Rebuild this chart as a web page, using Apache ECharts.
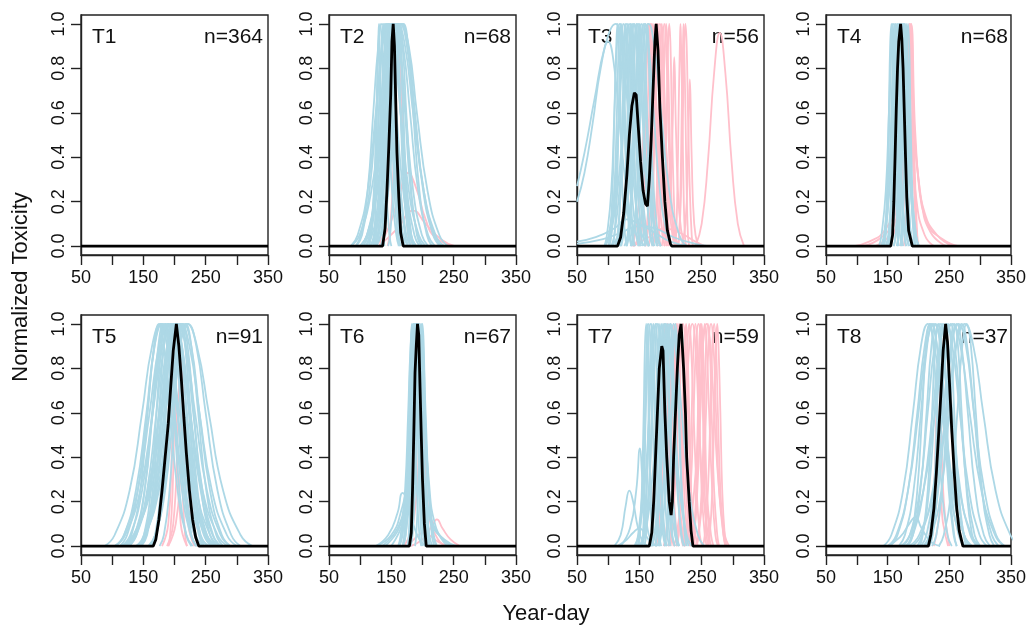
<!DOCTYPE html>
<html>
<head>
<meta charset="utf-8">
<script src="https://cdn.jsdelivr.net/npm/echarts@6/dist/echarts.min.js"></script>
<style>html,body{margin:0;padding:0;background:#fff}#c{width:1029px;height:630px}</style>
</head>
<body>
<div id="c"></div>
<script>
// ---------- DATA ----------
const panelNames = ['T1','T2','T3','T4','T5','T6','T7','T8'];
const panelN = [364, 68, 56, 68, 91, 67, 59, 37];
const xTicks = [50, 100, 150, 200, 250, 300, 350];
const xTickLabels = [50, 150, 250, 350];
const yTicks = [0, 0.2, 0.4, 0.6, 0.8, 1.0];
// heights shared by the "level" curves: each curve lists the year-day at which it crosses these heights
const LEVELS = [0, 0.05, 0.25, 0.6, 0.9, 1, 0.9, 0.6, 0.25, 0.05, 0];

const t1Black = [[50,0],[350,0]];

const t2Black = [[50,0],[136,0],[140,0.08],[143,0.25],[146,0.45],[149,0.68],[151,0.92],[153,1],[155,0.9],[157,0.66],[159,0.42],[162,0.22],[165,0.06],[169,0],[350,0]];
const t2BlueLv = [
 [121,123,125,127,129,130,131,133,135,137,139],[110,115,123,130,135,140,145,150,157,165,170],
 [109,116,125,133,139,145,151,157,165,174,181],[105,113,125,135,143,150,157,165,175,187,195],
 [101,111,125,137,147,155,163,173,185,199,209],[100,111,127,140,151,160,169,180,193,209,220],
 [99,111,128,143,155,165,175,187,202,219,231],[108,119,135,148,159,168,177,188,201,217,228],
 [124,128,135,140,144,148,152,156,161,168,172],[134,137,142,146,149,152,155,158,162,167,170],
 [133,137,144,149,153,157,161,165,170,177,181],[126,133,142,150,156,162,168,174,182,191,198],
 [93,101,112,121,129,135,141,149,158,169,177],[94,103,115,126,135,142,149,158,169,181,190],
 [121,129,141,151,159,166,178,191,208,227,241],[125,133,145,155,163,170,177,185,195,207,215],
 [114,118,125,130,134,138,142,146,151,158,162],[125,130,138,145,150,155,160,165,172,180,185],
 [85,96,112,125,136,145,154,165,178,194,205],[85,99,118,135,148,160,172,185,202,221,235],
 [135,138,142,145,148,150,152,155,158,162,165],[145,148,153,157,160,163,166,169,173,178,181],
 [114,117,122,126,129,132,135,138,142,147,150],[116,124,135,144,152,158,164,172,181,192,200],
 [117,122,130,137,142,147,152,157,164,172,177],[133,138,145,151,156,160,164,169,175,182,187],
 [117,124,133,141,147,153,159,165,173,182,189],[122,126,131,136,140,143,146,150,155,160,164]
];
const t2BlueXY = [];
const t2PinkLv = [[144,147,152,156,159,162,165,168,172,177,180],[131,136,143,149,154,158,162,167,173,180,185]];
const t2PinkXY = [
 [[120,0],[140,0.05],[160,0.2],[177,0.33],[190,0.26],[205,0.12],[220,0.04],[250,0]],
 [[130,0],[160,0.08],[185,0.16],[205,0.1],[230,0.03],[252,0]]
];

const t3Black = [[50,0],[115,0],[120,0.04],[125,0.15],[130,0.32],[134,0.5],[138,0.63],[142,0.69],[145,0.68],[148,0.55],[152,0.38],[156,0.25],[160,0.19],[163,0.18],[166,0.3],[169,0.48],[172,0.7],[175,0.92],[177,1.0],[180,0.88],[183,0.62],[187,0.4],[191,0.2],[195,0.07],[200,0.01],[202,0],[350,0]];
const t3BlueLv = [
 [100,103,107,110,113,115,117,120,123,127,130],[102,105,110,114,117,120,123,126,130,135,138],
 [101,105,112,117,121,125,129,133,138,145,149],[113,116,120,123,126,128,130,133,136,140,143],
 [111,115,120,125,129,132,135,139,144,149,153],[105,110,118,125,130,135,140,145,152,160,165],
 [120,123,128,132,135,138,141,144,148,153,156],[118,122,129,134,138,142,146,150,155,162,166],
 [130,133,137,140,143,145,147,150,153,157,160],[112,119,128,136,142,148,154,160,168,177,184],
 [129,133,138,143,147,150,153,157,162,167,171],[126,131,138,144,149,153,157,162,168,175,180],
 [138,141,146,150,153,156,159,162,166,171,174],[136,140,147,152,156,160,164,168,173,180,184],
 [148,151,155,158,161,163,165,168,171,175,178],[95,103,115,125,133,140,147,155,165,177,185],
 [94,101,110,118,124,130,136,142,150,159,166],[113,121,133,143,151,158,165,173,183,195,203],
 [105,116,132,145,156,165,174,185,198,214,225],[94,98,105,110,114,118,122,126,131,138,142],
 [107,110,114,117,120,122,124,127,130,134,137],[119,124,131,137,142,146,150,155,161,168,173],
 [121,124,128,131,134,136,138,141,144,148,151]
];
const t3BlueXY = [
 [[50,0.2],[62,0.33],[75,0.55],[88,0.8],[100,0.92],[110,0.8],[120,0.5],[132,0.2],[145,0.05],[160,0]],
 [[50,0.27],[62,0.42],[78,0.66],[95,0.9],[112,1],[122,0.9],[132,0.6],[142,0.25],[152,0.07],[165,0]],
 [[50,0.02],[80,0.04],[110,0.08],[130,0.12],[150,0.1],[175,0.06],[200,0.02],[230,0]],
 [[50,0.01],[90,0.03],[120,0.06],[150,0.09],[175,0.08],[205,0.04],[240,0.01],[262,0]]
];
const t3PinkLv = [
 [150,153,157,160,163,165,167,170,173,177,180],[149,153,158,163,167,170,173,177,182,187,191],
 [160,162,165,168,170,172,174,176,179,182,184],[158,161,166,170,173,176,179,182,186,191,194],
 [165,168,172,175,178,180,182,185,188,192,195],[159,163,170,175,179,183,187,191,196,203,207],
 [171,174,178,181,184,186,188,191,194,198,201],[172,175,180,184,187,190,193,196,200,205,208],
 [138,143,151,158,163,168,173,178,185,193,198],[142,149,158,166,172,178,184,190,198,207,214],
 [178,181,185,188,191,193,195,198,201,205,208],[186,188,191,194,196,198,200,202,205,208,210],
 [207,209,211,213,215,216,217,219,221,223,225],[212,214,216,218,220,221,222,224,226,228,230],
 [212,214,217,220,222,224,226,228,231,234,236]
];
const t3PinkXY = [
 [[218,0],[224,0.1],[228,0.4],[231,0.75],[234,0.4],[238,0.1],[244,0]],
 [[190,0],[198,0.15],[203,0.5],[206,0.85],[209,0.5],[214,0.15],[222,0]],
 [[240,0],[250,0.1],[260,0.38],[270,0.78],[279,0.96],[288,0.78],[298,0.38],[308,0.1],[318,0]],
 [[140,0],[165,0.04],[190,0.08],[215,0.06],[240,0.02],[255,0]]
];

const t4Black = [[50,0],[155,0],[158,0.05],[160,0.2],[162,0.4],[164,0.62],[166,0.8],[168,0.92],[171,1],[173,0.93],[175,0.8],[177,0.6],[179,0.4],[181,0.22],[184,0.07],[190,0],[350,0]];
const t4BlueLv = [
 [144,146,149,152,154,156,158,160,163,166,168],[143,146,150,153,156,158,160,163,166,170,173],
 [144,147,152,156,159,162,165,168,172,177,180],[150,153,157,160,163,165,167,170,173,177,180],
 [147,151,156,161,165,168,171,175,180,185,189],[155,158,162,165,168,170,172,175,178,182,185],
 [154,157,162,166,169,172,175,178,182,187,190],[160,163,167,170,173,175,177,180,183,187,190],
 [160,163,168,172,175,178,181,184,188,193,196],[165,168,172,175,178,180,182,185,188,192,195],
 [171,173,176,179,181,183,185,187,190,193,195],[136,140,147,152,156,160,164,168,173,180,184],
 [139,144,151,157,162,166,170,175,181,188,193],[147,152,159,165,170,174,178,183,189,196,201],
 [140,145,153,160,165,170,175,180,187,195,200],[152,156,163,168,172,176,180,184,189,196,200],
 [151,153,156,159,161,163,165,167,170,173,175],[165,167,170,173,175,177,179,181,184,187,189]
];
const t4BlueXY = [];
const t4PinkLv = [[170,173,177,180,183,185,187,190,193,197,200],[176,178,181,184,186,188,190,192,195,198,200]];
const t4PinkXY = [
 [[95,0],[120,0.02],[145,0.07],[165,0.2],[178,0.55],[186,1],[192,0.6],[200,0.3],[215,0.1],[240,0.03],[265,0]],
 [[110,0],[140,0.04],[160,0.12],[175,0.4],[184,0.95],[190,0.7],[198,0.35],[210,0.15],[230,0.05],[255,0]],
 [[130,0],[155,0.06],[170,0.25],[182,0.8],[188,1],[195,0.5],[205,0.2],[220,0.06],[245,0]],
 [[150,0],[165,0.1],[175,0.3],[181,0.7],[184,0.88],[189,0.5],[197,0.2],[210,0.05],[225,0]]
];

const t5Black = [[50,0],[166,0],[170,0.03],[175,0.12],[180,0.25],[185,0.4],[190,0.55],[194,0.72],[198,0.88],[203,1],[207,0.9],[211,0.75],[215,0.58],[219,0.42],[224,0.25],[229,0.12],[234,0.04],[239,0],[350,0]];
const t5BlueLv = [
 [121,131,145,157,167,175,183,193,205,219,229],[112,124,141,156,168,178,188,200,215,232,244],
 [88,104,128,148,164,178,192,208,228,252,268],[105,119,138,155,168,180,192,205,222,241,255],
 [125,136,152,165,176,185,194,205,218,234,245],[143,151,162,171,179,185,191,199,208,219,227],
 [104,119,141,160,175,188,201,216,235,257,272],[145,153,165,175,183,190,197,205,215,227,235],
 [127,139,156,171,183,193,203,215,230,247,259],[105,121,145,165,181,195,209,225,245,269,285],
 [144,154,168,180,190,198,206,216,228,242,252],[162,169,178,186,192,198,204,210,218,227,234],
 [125,139,158,175,188,200,212,225,242,261,275],[143,154,170,183,194,203,212,223,236,252,263],
 [121,136,158,177,192,205,218,233,252,274,289],[163,171,182,191,199,205,211,219,228,239,247],
 [142,154,171,186,198,208,218,230,245,262,274],[120,136,160,180,196,210,224,240,260,284,300],
 [176,183,192,200,206,212,218,224,232,241,248],[159,169,183,195,205,213,221,231,243,257,267],
 [140,154,173,190,203,215,227,240,257,276,290],[158,169,185,198,209,218,227,238,251,267,278],
 [115,134,162,185,204,220,236,255,278,306,325],[138,153,175,194,209,222,235,250,269,291,306],
 [128,138,152,164,174,182,190,200,212,226,236],[147,156,168,179,188,195,202,211,222,234,243],
 [140,151,167,180,191,200,209,220,233,249,260],[162,171,183,194,203,210,217,226,237,249,258],
 [115,129,148,165,178,190,202,215,232,251,265]
];
const t5BlueXY = [];
const t5PinkLv = [[190,193,197,200,203,205,207,210,213,217,220]];
const t5PinkXY = [
 [[180,0],[190,0.1],[196,0.45],[200,0.85],[204,0.45],[210,0.1],[220,0]],
 [[188,0],[198,0.1],[205,0.5],[210,0.9],[215,0.5],[222,0.1],[232,0]],
 [[190,0],[202,0.1],[210,0.35],[215,0.6],[220,0.35],[228,0.1],[238,0]]
];

const t6Black = [[50,0],[179,0],[182,0.06],[184,0.25],[186,0.5],[188,0.78],[190,0.9],[192,1],[194,0.95],[196,0.72],[198,0.5],[200,0.3],[203,0.1],[206,0],[350,0]];
const t6BlueLv = [
 [168,171,175,178,181,183,185,188,191,195,198],[168,171,176,180,183,186,189,192,196,201,204],
 [176,178,181,184,186,188,190,192,195,198,200],[169,173,178,183,187,190,193,197,202,207,211],
 [177,180,184,187,190,192,194,197,200,204,207],[176,179,184,188,191,194,197,200,204,209,212],
 [181,184,188,191,194,196,198,201,204,208,211],[177,181,186,191,195,198,201,205,210,215,219],
 [188,190,193,196,198,200,202,204,207,210,212],[162,167,174,180,185,189,193,198,204,211,216],
 [163,168,176,183,188,193,198,203,210,218,223],[161,165,172,177,181,185,189,193,198,205,209],
 [168,173,180,186,191,195,199,204,210,217,222]
];
const t6BlueXY = [
 [[126,0],[150,0.05],[165,0.15],[175,0.3],[183,0.7],[187,1],[192,0.6],[200,0.3],[215,0.1],[235,0.03],[255,0]],
 [[135,0],[160,0.08],[172,0.22],[180,0.45],[186,0.9],[190,1],[196,0.6],[205,0.25],[220,0.08],[245,0]],
 [[140,0],[165,0.1],[178,0.35],[186,0.8],[191,1],[197,0.55],[210,0.15],[230,0.04],[250,0]],
 [[150,0],[170,0.12],[180,0.3],[188,0.75],[194,1],[201,0.7],[210,0.3],[222,0.08],[240,0]],
 [[125,0],[145,0.05],[160,0.15],[168,0.24],[176,0.2],[185,0.1],[195,0.03],[205,0]]
];
const t6PinkLv = [];
const t6PinkXY = [
 [[170,0],[185,0.1],[195,0.5],[199,0.95],[203,0.5],[210,0.15],[225,0.03],[240,0]],
 [[180,0],[200,0.03],[215,0.09],[223,0.12],[232,0.08],[245,0.03],[260,0]],
 [[175,0],[190,0.04],[200,0.06],[210,0.05],[225,0.02],[240,0]]
];

const t7Black = [[50,0],[166,0],[170,0.06],[173,0.2],[176,0.4],[179,0.6],[182,0.8],[186,0.9],[188,0.88],[191,0.6],[194,0.4],[198,0.2],[201,0.14],[203,0.2],[205,0.4],[208,0.6],[211,0.8],[214,0.95],[217,1],[221,0.8],[224,0.6],[226,0.4],[230,0.2],[233,0.07],[236,0],[350,0]];
const t7BlueLv = [
 [154,156,158,160,162,163,164,166,168,170,172],[147,150,155,159,162,165,168,171,175,180,183],
 [144,148,155,160,164,168,172,176,181,188,192],[155,158,162,165,168,170,172,175,178,182,185],
 [152,156,161,166,170,173,176,180,185,190,194],[158,161,166,170,173,176,179,182,186,191,194],
 [153,158,165,171,176,180,184,189,195,202,207],[168,171,175,178,181,183,185,188,191,195,198],
 [165,169,174,179,183,186,189,193,198,203,207],[166,170,177,182,186,190,194,198,203,210,214],
 [175,178,183,187,190,193,196,199,203,208,211],[169,174,181,187,192,196,200,205,211,218,223],
 [179,183,188,193,197,200,203,207,212,217,221],[181,185,192,197,201,205,209,213,218,225,229],
 [190,193,198,202,205,208,211,214,218,223,226],[142,149,158,166,172,178,184,190,198,207,214],
 [150,158,169,178,186,192,198,206,215,226,234],[170,175,183,190,195,200,208,218,230,244,254],
 [149,151,154,157,159,161,163,165,168,171,173],[176,178,181,184,186,188,190,192,195,198,200]
];
const t7BlueXY = [
 [[110,0],[120,0.05],[128,0.18],[134,0.25],[140,0.2],[148,0.08],[156,0.02],[165,0]],
 [[120,0],[135,0.08],[145,0.25],[151,0.44],[155,0.3],[162,0.1],[170,0.02],[178,0]],
 [[115,0],[130,0.03],[140,0.06],[150,0.08],[160,0.05],[170,0]]
];
const t7PinkLv = [
 [175,178,182,185,188,190,192,195,198,202,205],[177,180,185,189,192,195,198,201,205,210,213],
 [176,180,187,192,196,200,204,208,213,220,224],[190,193,197,200,203,205,207,210,213,217,220],
 [189,193,198,203,207,210,213,217,222,227,231],[197,200,205,209,212,215,218,221,225,230,233],
 [196,200,207,212,216,220,224,228,233,240,244],[210,213,217,220,223,225,227,230,233,237,240],
 [209,213,218,223,227,230,233,237,242,247,251],[205,210,218,225,230,235,240,245,252,260,265],
 [222,225,230,234,237,240,243,246,250,255,258],[221,225,232,237,241,245,249,253,258,265,269],
 [235,238,242,245,248,250,252,255,258,262,265],[234,238,243,248,252,255,258,262,267,272,276],
 [222,229,238,246,252,258,264,270,278,287,294],[242,245,250,254,257,260,263,266,270,275,278],
 [241,245,252,257,261,265,269,273,278,285,289],[252,255,260,264,267,270,273,276,280,285,288],
 [260,263,267,270,273,275,277,280,283,287,290],[200,202,205,208,210,212,214,216,219,222,224],
 [236,238,241,244,246,248,250,252,255,258,260]
];
const t7PinkXY = [];

const t8Black = [[50,0],[216,0],[220,0.05],[225,0.17],[229,0.33],[233,0.52],[237,0.72],[240,0.88],[244,1],[247,0.92],[250,0.75],[254,0.52],[258,0.33],[262,0.17],[266,0.07],[272,0],[350,0]];
const t8BlueLv = [
 [182,189,198,206,212,218,224,230,238,247,254],[154,166,183,198,210,220,230,242,257,274,286],
 [143,156,175,191,204,215,226,239,255,274,287],[168,178,192,204,214,222,230,240,252,266,276],
 [150,164,183,200,213,225,237,250,267,286,300],[183,191,203,213,221,228,235,243,253,265,273],
 [202,207,215,222,227,232,237,242,249,257,262],[175,186,202,215,226,235,244,255,268,284,295],
 [214,218,225,230,234,238,242,246,251,258,262],[198,206,217,226,234,240,246,254,263,274,282],
 [179,191,208,223,235,245,255,267,282,299,311],[218,223,231,238,243,248,253,258,265,273,278],
 [204,213,225,236,245,252,259,268,279,291,300],[171,186,208,227,242,255,268,283,302,324,339],
 [222,229,238,246,252,258,264,270,278,287,294],[208,218,232,244,254,262,270,280,292,306,316],
 [190,204,223,240,253,265,277,290,307,326,340],[210,221,237,250,261,270,279,290,303,319,330],
 [185,201,225,245,261,275,289,305,325,349,365],[233,241,253,263,271,278,285,293,303,315,323]
];
const t8BlueXY = [
 [[150,0],[170,0.04],[185,0.1],[195,0.13],[205,0.08],[220,0.02],[235,0]]
];
const t8PinkLv = [];
const t8PinkXY = [
 [[215,0],[224,0.2],[229,0.6],[232,0.85],[236,0.6],[241,0.2],[250,0]],
 [[225,0],[232,0.1],[236,0.2],[240,0.1],[248,0]]
];

// ---------- LAYOUT / STYLE ----------
const BLUE = '#ADD8E6', PINK = '#FFC0CB';
const FONT = '"Liberation Sans", Arial, Helvetica, sans-serif';
const gridLefts = [81, 329, 577, 826];
const gridTops = [15, 315];
const GW = 187, GH = 240;

const panels = [
 {black:t1Black, blueLv:[], blueXY:[], pinkLv:[], pinkXY:[]},
 {black:t2Black, blueLv:t2BlueLv, blueXY:t2BlueXY, pinkLv:t2PinkLv, pinkXY:t2PinkXY},
 {black:t3Black, blueLv:t3BlueLv, blueXY:t3BlueXY, pinkLv:t3PinkLv, pinkXY:t3PinkXY},
 {black:t4Black, blueLv:t4BlueLv, blueXY:t4BlueXY, pinkLv:t4PinkLv, pinkXY:t4PinkXY},
 {black:t5Black, blueLv:t5BlueLv, blueXY:t5BlueXY, pinkLv:t5PinkLv, pinkXY:t5PinkXY},
 {black:t6Black, blueLv:t6BlueLv, blueXY:t6BlueXY, pinkLv:t6PinkLv, pinkXY:t6PinkXY},
 {black:t7Black, blueLv:t7BlueLv, blueXY:t7BlueXY, pinkLv:t7PinkLv, pinkXY:t7PinkXY},
 {black:t8Black, blueLv:t8BlueLv, blueXY:t8BlueXY, pinkLv:t8PinkLv, pinkXY:t8PinkXY}
];

const lvToPts = xs => xs.map((x, k) => [x, LEVELS[k]]);

const grids = [], xAxes = [], yAxes = [], series = [], graphics = [];
panels.forEach((p, i) => {
  const left = gridLefts[i % 4], top = gridTops[Math.floor(i / 4)];
  grids.push({left, top, width: GW, height: GH, show: true, borderColor: '#222', borderWidth: 1.4, backgroundColor: 'transparent'});
  xAxes.push({
    gridIndex: i, type: 'value', min: 50, max: 350, interval: 50,
    splitLine: {show: false},
    axisLine: {show: true, onZero: false, lineStyle: {color: '#222', width: 1.4}},
    axisTick: {show: true, length: 10, customValues: xTicks, lineStyle: {color: '#222', width: 1.4}},
    axisLabel: {customValues: xTickLabels, margin: 14, fontSize: 18, color: '#111', fontFamily: FONT}
  });
  yAxes.push({
    gridIndex: i, type: 'value', min: -0.04, max: 1.04,
    splitLine: {show: false},
    axisLine: {show: true, onZero: false, lineStyle: {color: '#222', width: 1.4}},
    axisTick: {show: true, length: 10, customValues: yTicks, lineStyle: {color: '#222', width: 1.4}},
    axisLabel: {customValues: yTicks, rotate: 90, margin: 13, fontSize: 18, color: '#111', fontFamily: FONT,
      formatter: v => Number(v).toFixed(1)}
  });
  const base = {type: 'line', xAxisIndex: i, yAxisIndex: i, showSymbol: false, symbol: 'none', silent: true, animation: false, clip: true};
  const thin = (c, data) => Object.assign({}, base, {data, smooth: 0.5, lineStyle: {color: c, width: 1.8}});
  p.pinkLv.forEach(xs => series.push(thin(PINK, lvToPts(xs))));
  p.pinkXY.forEach(d => series.push(thin(PINK, d)));
  p.blueLv.forEach(xs => series.push(thin(BLUE, lvToPts(xs))));
  p.blueXY.forEach(d => series.push(thin(BLUE, d)));
  series.push(Object.assign({}, base, {data: p.black, lineStyle: {color: '#000', width: 2.8}, z: 5}));

  graphics.push({type: 'text', x: left + 11, y: top + 22, silent: true,
    style: {text: panelNames[i], font: '21px ' + FONT, fill: '#111', textAlign: 'left', textVerticalAlign: 'middle'}});
  graphics.push({type: 'text', x: left + GW - 5, y: top + 22, silent: true,
    style: {text: 'n=' + panelN[i], font: '21px ' + FONT, fill: '#111', textAlign: 'right', textVerticalAlign: 'middle'}});
});

graphics.push({type: 'text', x: 21, y: 287, rotation: Math.PI / 2, silent: true,
  style: {text: 'Normalized Toxicity', font: '22px ' + FONT, fill: '#111', textAlign: 'center', textVerticalAlign: 'middle'}});
graphics.push({type: 'text', x: 546, y: 614, silent: true,
  style: {text: 'Year-day', font: '22px ' + FONT, fill: '#111', textAlign: 'center', textVerticalAlign: 'middle'}});

const chart = echarts.init(document.getElementById('c'), null, {renderer: 'canvas'});
chart.setOption({
  animation: false,
  backgroundColor: '#fff',
  grid: grids, xAxis: xAxes, yAxis: yAxes, series: series, graphic: graphics
});
</script>
</body>
</html>
